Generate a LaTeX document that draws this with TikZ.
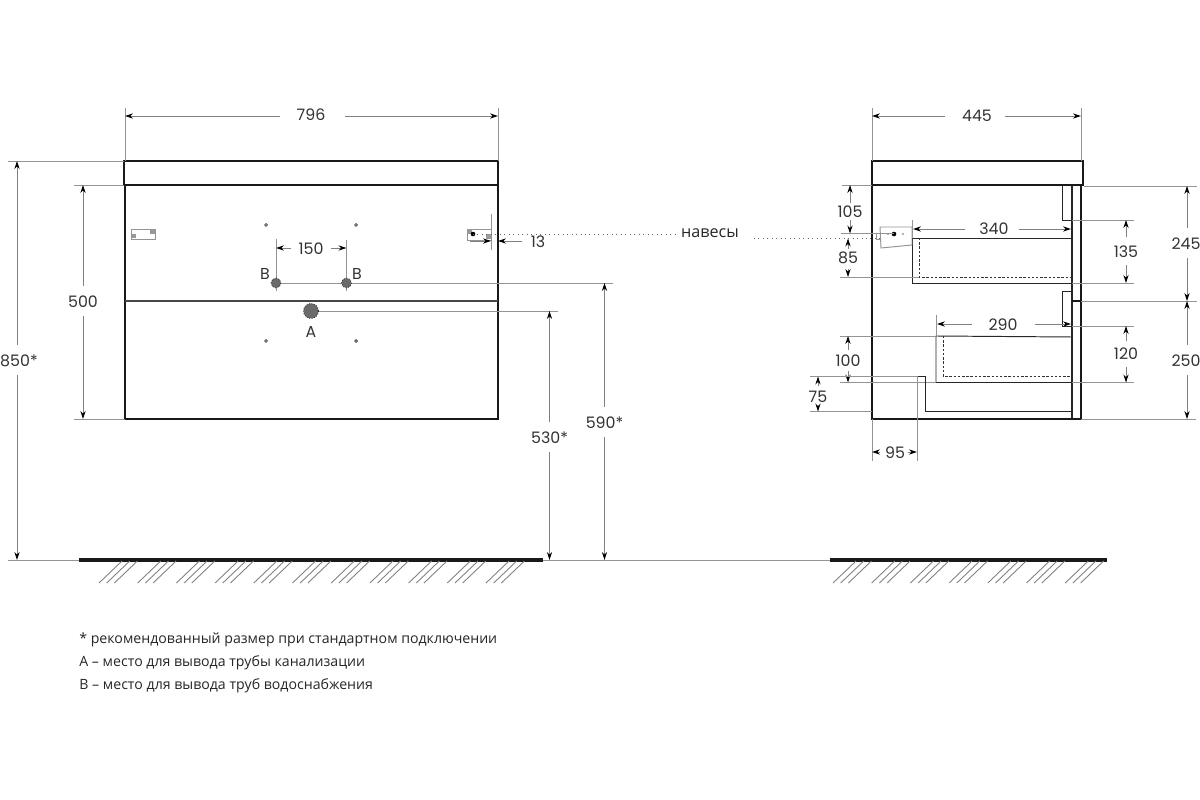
\documentclass[tikz,border=0pt]{standalone}
\usepackage{fontspec}
\setmainfont{Poppins}
\newfontfamily\notefont{Open Sans}
\usepackage{tikz}
\usetikzlibrary{arrows.meta}

\tikzset{
	outline/.style={black!90, line width=1.05pt},
	side outline/.style={black!90, line width=0.85pt},
	thin outline/.style={black!85, line width=0.55pt},
	dash outline/.style={black!80, line width=0.55pt, dash pattern=on 1.4pt off 1pt},
	ext/.style={black!42, line width=0.55pt},
	dim/.style={black!50, line width=0.5pt, -{Stealth[length=4.6pt,width=3pt,black]}},
	dimlabel/.style={inner sep=0pt, yshift=-0.5pt, font=\fontsize{9}{11}\selectfont, text=black!80},
	note/.style={inner sep=0pt, anchor=west, yshift=-1pt, font=\notefont\fontsize{8.05}{10}\selectfont, text=black!85},
	hatch/.style={black!50, line width=0.5pt},
	hole/.style={fill=black!58, draw=black!85, densely dotted, line width=0.45pt}
}

\begin{document}
\begin{tikzpicture} [x=0.02cm, y=-0.02cm]
	\useasboundingbox (0, 0) rectangle (1200, 800);

	% front view
	\draw [outline] (124, 161) rectangle (498, 185);
	\draw [outline] (125, 185)--(125, 419)--(498, 419)--(498, 185);
	\draw [black!90, line width=1.3pt] (124, 185)--(498, 185);
	\draw [black!72, line width=1.5pt] (125, 301)--(498, 301);

	\draw [ext] (125, 108)--(125, 161);
	\draw [ext] (498, 108)--(498, 161);
	\draw [dim] (280, 116)--(125, 116);
	\draw [dim] (345, 116)--(498, 116);
	\node [dimlabel] (width796) at (311, 114) {796};

	\draw [ext] (8, 161)--(124, 161);
	\draw [dim] (17, 345)--(17, 161);
	\draw [dim] (17, 375)--(17, 560);
	\node [dimlabel] (height850) at (19, 360) {850*};

	\draw [ext] (74, 185)--(124, 185);
	\draw [ext] (74, 419)--(125, 419);
	\draw [dim] (83, 286)--(83, 185);
	\draw [dim] (83, 316)--(83, 419);
	\node [dimlabel] (height500) at (83, 301) {500};

	% fixing holes
	\foreach \x in {266, 356} {
		\foreach \y in {225, 341} {
			\draw [black!70, fill=black!35, line width=0.4pt] (\x, \y) circle (1.5);
		}
	}

	% pipe outlets
	\draw [ext] (276, 239)--(276, 291);
	\draw [ext] (346.5, 240)--(346.5, 291);
	\draw [dim] (291, 248)--(276, 248);
	\draw [dim] (331, 248)--(346.5, 248);
	\node [dimlabel] (gap150) at (311, 248) {150};
	\draw [ext] (276, 283)--(613, 283);
	\draw [ext] (311, 311)--(558, 311);
	\draw [hole] (276, 283) circle (5);
	\draw [hole] (346.5, 283) circle (5);
	\draw [hole] (311, 311) circle (7.5);
	\node [dimlabel] (labelBleft) at (265, 273) {B};
	\node [dimlabel] (labelBright) at (357, 273) {B};
	\node [dimlabel] (labelA) at (311, 331) {A};

	\draw [dim] (604.5, 407)--(604.5, 283);
	\draw [dim] (604.5, 437)--(604.5, 560);
	\node [dimlabel] (height590) at (604.5, 422) {590*};
	\draw [dim] (549.5, 422)--(549.5, 311);
	\draw [dim] (549.5, 452)--(549.5, 560);
	\node [dimlabel] (height530) at (549.5, 437) {530*};

	% hinges, front
	\draw [ext] (131, 229) rectangle (155, 239);
	\fill [black!40] (131.5, 234) rectangle (136, 238.5);
	\fill [black!40] (150, 229.5) rectangle (154.5, 234);

	\draw [ext] (467, 229)--(491, 229);
	\draw [ext] (467, 229)--(467, 240);
	\draw [ext] (467, 240)--(491, 240);
	\draw [ext] (491, 214)--(491, 250);
	\fill [black!40] (467, 229) rectangle (472, 234);
	\fill [black!40] (486, 234) rectangle (491, 239);
	\fill [black] (473, 234) circle (2.3);
	\draw [dim] (470, 241)--(491, 241);
	\draw [dim] (522, 241)--(498, 241);
	\node [dimlabel] (gap13) at (538, 241) {13};

	\draw [black!60, dotted, line width=0.55pt] (473, 234)--(678, 234);
	\node [note, anchor=center, font=\notefont\fontsize{9.2}{11}\selectfont] (hinges) at (710, 231) {навесы};
	\draw [black!60, dotted, line width=0.55pt] (754, 238)--(880, 238);

	% side view
	\draw [side outline] (872, 161) rectangle (1083, 185);
	\draw [side outline] (872, 185)--(872, 419)--(1081, 419)--(1081, 185);
	\draw [black!85, line width=0.65pt] (1072, 185)--(1072, 419);

	\draw [ext] (872, 108)--(872, 161);
	\draw [ext] (1081, 108)--(1081, 161);
	\draw [dim] (945, 116)--(872, 116);
	\draw [dim] (1005, 116)--(1081, 116);
	\node [dimlabel] (depth445) at (977, 115) {445};

	% upper drawer
	\draw [thin outline] (1072, 238)--(912, 238)--(912, 283)--(1072, 283);
	\draw [dash outline] (919, 238)--(919, 277)--(1072, 277);
	\draw [thin outline] (1062, 185)--(1062, 220)--(1072, 220);
	\draw [ext] (912, 220)--(912, 238);
	\draw [dim] (965, 229)--(913, 229);
	\draw [dim] (1019, 229)--(1071, 229);
	\node [dimlabel] (depth340) at (994, 228) {340};

	% hinge, side
	\draw [ext] (880, 227)--(912, 227)--(912, 245)--(881, 248)--cycle;
	\draw [ext] (876, 233) rectangle (880, 239);
	\fill [black] (894, 234) circle (2.3);
	\fill [black!40] (888, 234) circle (1.2);
	\fill [black!40] (903, 234) circle (1.2);

	\draw [ext] (842, 185)--(872, 185);
	\draw [ext] (841, 233.5)--(894, 233.5);
	\draw [dim] (850, 203)--(850, 185);
	\draw [dim] (850, 220)--(850, 233.5);
	\node [dimlabel] (height105) at (850, 211) {105};

	\draw [ext] (840, 277)--(919, 277);
	\draw [dim] (848, 249)--(848, 238.5);
	\draw [dim] (848, 269)--(848, 277);
	\node [dimlabel] (height85) at (848, 257) {85};

	\draw [ext] (1072, 220)--(1134, 220);
	\draw [ext] (1072, 283)--(1134, 283);
	\draw [dim] (1126, 237)--(1126, 220);
	\draw [dim] (1126, 265)--(1126, 283);
	\node [dimlabel] (height135) at (1126, 251) {135};

	% lower drawer
	\draw [thin outline] (1072, 337)--(936, 336)--(936, 382.5)--(1072, 382.5);
	\draw [dash outline] (943, 336)--(943, 376)--(1072, 376);
	\draw [thin outline] (1072, 291)--(1062, 291)--(1062, 326)--(1072, 326);
	\draw [ext] (936, 315)--(936, 336);
	\draw [dim] (972, 324)--(937, 324);
	\draw [dim] (1035, 324)--(1071, 324);
	\node [dimlabel] (depth290) at (1003, 324) {290};

	\draw [ext] (840, 336)--(936, 336);
	\draw [ext] (840, 382.5)--(936, 382.5);
	\draw [dim] (848, 350)--(848, 336);
	\draw [dim] (848, 371)--(848, 382.5);
	\node [dimlabel] (height100) at (848, 360) {100};

	\draw [ext] (1072, 326)--(1134, 326);
	\draw [ext] (1072, 382.5)--(1134, 382.5);
	\draw [dim] (1126, 341)--(1126, 326);
	\draw [dim] (1126, 367)--(1126, 382.5);
	\node [dimlabel] (height120) at (1126, 353) {120};

	% plinth
	\draw [thin outline] (917, 376.5)--(925, 376.5)--(925, 411.5)--(1072, 411.5);
	\draw [ext] (810, 376.5)--(917, 376.5);
	\draw [ext] (810, 411.5)--(872, 411.5);
	\draw [ext] (917, 376.5)--(917, 461);
	\draw [ext] (872, 419)--(872, 461);
	\draw [dim] (818, 386)--(818, 376.5);
	\draw [dim] (818, 406)--(818, 411.5);
	\node [dimlabel] (height75) at (818, 396) {75};
	\draw [dim] (880, 452)--(872, 452);
	\draw [dim] (908, 452)--(917, 452);
	\node [dimlabel] (depth95) at (895, 452) {95};

	% right dimensions
	\draw [ext] (1084, 186)--(1197, 186);
	\draw [ext] (1081, 301)--(1197, 301);
	\draw [ext] (1081, 419)--(1196, 419);
	\draw [side outline] (1072, 301)--(1081, 301);
	\draw [dim] (1187, 228)--(1187, 186);
	\draw [dim] (1187, 258)--(1187, 301);
	\node [dimlabel] (height245) at (1186, 243) {245};
	\draw [dim] (1187, 345)--(1187, 301);
	\draw [dim] (1187, 375)--(1187, 419);
	\node [dimlabel] (height250) at (1186, 360) {250};

	% floor
	\draw [ext] (8, 560)--(79, 560);
	\draw [ext] (543, 560)--(830, 560);
	\draw [black!90, line width=2pt] (79, 560)--(543, 560);
	\draw [black!90, line width=2pt] (830, 560)--(1107, 560);

	\foreach \k in {0, ..., 10} {
		\foreach \s in {0, 7.7, 15.4} {
			\draw [hatch] (99+38.7*\k+\s, 583)--(122+38.7*\k+\s, 561);
		}
	}
	\foreach \k in {0, ..., 6} {
		\foreach \s in {0, 7.7, 15.4} {
			\draw [hatch] (833+38.7*\k+\s, 583)--(856+38.7*\k+\s, 561);
		}
	}

	% notes
	\node [note] (noteStar) at (79, 638) {* рекомендованный размер при стандартном подключении};
	\node [note] (noteA) at (79, 661) {A – место для вывода трубы канализации};
	\node [note] (noteB) at (79, 684) {B – место для вывода труб водоснабжения};

\end{tikzpicture}
\end{document}
